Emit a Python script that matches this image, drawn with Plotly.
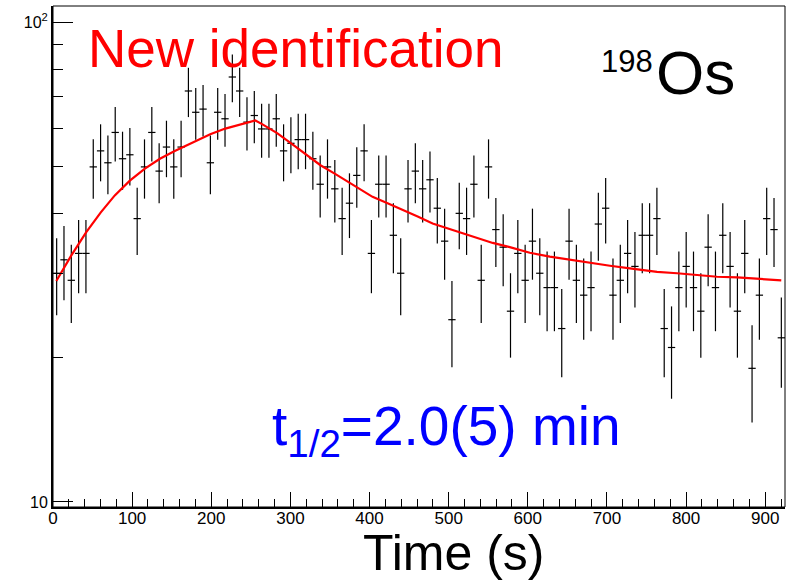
import plotly.graph_objects as go
import numpy as np

# Histogram: 100 bins from 0 to 925 s
x_min, x_max, n_bins = 0.0, 925.0, 100
counts = [30, 32, 29, 33, 33, 50, 54, 51, 59, 52,
          53, 39, 50, 59, 49, 55, 50, 55, 72, 65,
          66, 51, 65, 63, 77, 72, 62, 64, 60, 60,
          63, 54, 56, 57, 57, 52, 46, 50, 45, 39,
          42, 48, 54, 33, 46, 46, 36, 30, 45, 49,
          45, 47, 41, 35, 24, 40, 39, 46, 29, 50,
          37, 34, 25, 33, 29, 35, 30, 28, 28, 23,
          35, 29, 27, 28, 38, 41, 27, 29, 33, 31,
          36, 36, 39, 23, 21, 28, 31, 28, 25, 34,
          28, 36, 31, 25, 33, 19, 27, 39, 37, 22]

# Fit curve
curve_t = [4.2, 22.8, 41.8, 60.4, 78.1, 97.1, 116.1, 135.1, 153.2, 170.9,
           183.5, 198.7, 217.7, 236.7, 249.4, 255.7, 264.2, 283.2, 302.2, 321.1,
           338.0, 357.0, 369.6, 384.8, 403.8, 422.8, 441.8, 460.8, 479.7, 498.7,
           517.7, 536.7, 555.7, 577.2, 602.5, 627.8, 653.2, 678.5, 703.8, 729.1,
           763.3, 788.6, 813.9, 839.2, 864.6, 889.9, 920.3]
curve_v = [28.9, 32.6, 36.5, 40.2, 43.6, 46.8, 49.6, 52.0, 53.9, 55.7,
           57.0, 58.5, 60.1, 61.4, 62.2, 62.5, 61.4, 58.8, 55.8, 52.9,
           50.4, 48.3, 46.9, 45.1, 43.3, 42.0, 40.6, 39.4, 38.1, 37.2,
           36.3, 35.5, 34.7, 34.0, 33.1, 32.5, 32.0, 31.6, 31.1, 30.7,
           30.2, 30.0, 29.7, 29.5, 29.4, 29.2, 29.0]

y_tickvals = [10, 100]
y_ticktext = ["10", "10<sup>2</sup>"]
y_minor = [20, 30, 40, 50, 60, 70, 80, 90]

bw = (x_max - x_min) / n_bins
centers = [x_min + (i + 0.5) * bw for i in range(n_bins)]
errs = [np.sqrt(c) for c in counts]

W, H = 788, 580
L, R, T, B = 53, 3, 6, 73
pw, ph = W - L - R, H - T - B

def px(X):
    return (X - L) / pw

def py(Y):
    return (H - B - Y) / ph

fig = go.Figure()
fig.add_trace(go.Scatter(
    x=centers, y=counts, mode="markers",
    marker=dict(size=1, color="black"),
    error_y=dict(type="data", array=errs, width=0, thickness=1.2, color="black"),
    error_x=dict(type="constant", value=bw / 2, width=0, thickness=1.2, color="black"),
    showlegend=False, hoverinfo="skip"))
fig.add_trace(go.Scatter(
    x=curve_t, y=curve_v, mode="lines",
    line=dict(color="red", width=2.2), showlegend=False, hoverinfo="skip"))

font_family = "Liberation Sans, Arial, Helvetica, sans-serif"
ann = []
ann.append(dict(text="New identification", x=px(86), y=py(48), xref="paper", yref="paper",
                xanchor="left", yanchor="middle", showarrow=False,
                font=dict(family=font_family, size=53, color="red")))
ann.append(dict(text="198", x=px(655), y=py(62), xref="paper", yref="paper",
                xanchor="right", yanchor="middle", showarrow=False,
                font=dict(family=font_family, size=31, color="black")))
ann.append(dict(text="Os", x=px(654), y=py(72), xref="paper", yref="paper",
                xanchor="left", yanchor="middle", showarrow=False,
                font=dict(family=font_family, size=62, color="black")))
ann.append(dict(text="t<sub>1/2</sub>=2.0(5) min", x=px(270), y=py(430), xref="paper", yref="paper",
                xanchor="left", yanchor="middle", showarrow=False,
                font=dict(family=font_family, size=55, color="blue")))
ann.append(dict(text="Time (s)", x=px(453), y=py(553), xref="paper", yref="paper",
                xanchor="center", yanchor="middle", showarrow=False,
                font=dict(family=font_family, size=50, color="black")))

fig.update_layout(
    width=W, height=H, margin=dict(l=L, r=R, t=T, b=B, autoexpand=False),
    paper_bgcolor="white", plot_bgcolor="white",
    font=dict(family=font_family, size=17, color="black"),
    annotations=ann,
    shapes=[dict(type="rect", xref="paper", yref="paper", x0=0, x1=1, y0=0, y1=1,
                 line=dict(color="black", width=1))],
)
fig.update_xaxes(range=[x_min, x_max], showgrid=False, zeroline=False, automargin=False,
                 showline=True, linecolor="black", linewidth=2,
                 ticks="inside", ticklen=15, tickwidth=1, tickcolor="black",
                 tick0=0, dtick=100, tickfont=dict(size=17), ticklabelstandoff=-5,
                 minor=dict(ticks="inside", dtick=20, ticklen=8, tickwidth=1, tickcolor="black"))
fig.update_yaxes(type="log", range=[np.log10(9.76), np.log10(108.3)],
                 showgrid=False, zeroline=False, automargin=False,
                 showline=True, linecolor="black", linewidth=2,
                 ticks="inside", ticklen=20, tickwidth=1, tickcolor="black",
                 tickmode="array", tickvals=y_tickvals, ticktext=y_ticktext,
                 tickfont=dict(size=16),
                 minor=dict(ticks="inside", tickmode="array", tickvals=y_minor,
                            ticklen=10, tickwidth=1, tickcolor="black"))

fig.write_html("out.html", config={"displayModeBar": False},
               post_script="document.body.style.margin='0';")
